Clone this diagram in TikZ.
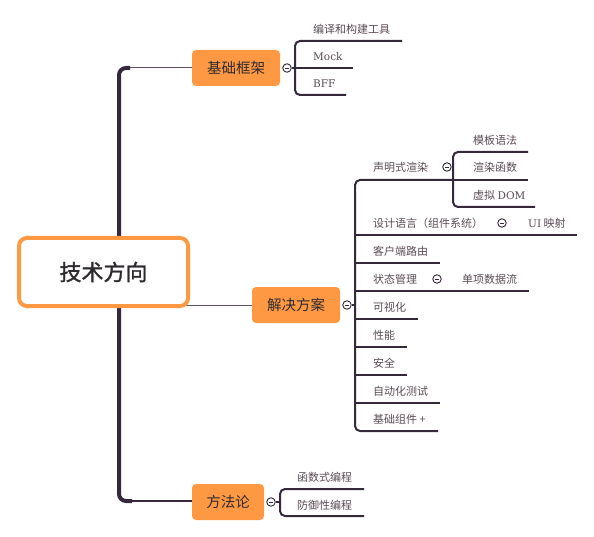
\documentclass[tikz,border=0pt]{standalone}
\usepackage{fontspec}
\setmainfont{DejaVu Serif}
\newfontfamily\cjk{Noto Sans CJK SC}
\newfontfamily\cjkmed[FakeBold=1.3]{Noto Sans CJK SC}
\definecolor{orangefill}{HTML}{FF9843}
\definecolor{linedark}{HTML}{35283A}
\definecolor{leafgray}{HTML}{5A4B55}
\definecolor{boxtext}{HTML}{2E2A2E}
\tikzset{
  rootbox/.style={draw=orangefill, line width=4pt, fill=white, rounded corners=8pt,
    minimum width=169pt, minimum height=68pt, inner sep=0pt, text=boxtext,
    font=\cjkmed\fontsize{22}{22}\selectfont},
  topicbox/.style={fill=orangefill, rounded corners=4pt, minimum height=36pt,
    inner sep=0pt, text=boxtext, font=\cjk\fontsize{14.5}{15}\selectfont},
  leaf/.style={anchor=west, inner sep=0pt, text=leafgray, font=\cjk\fontsize{11}{11}\selectfont},
  latin/.style={anchor=west, inner sep=0pt, text=leafgray, font=\fontsize{10.5}{10.5}\selectfont},
  branch/.style={draw=linedark, line width=2pt},
  bracketline/.style={draw=linedark, line width=2pt, rounded corners=5pt},
  knob/.style={circle, draw=linedark, fill=white, line width=0.9pt, minimum size=8.5pt, inner sep=0pt,
    path picture={\draw[linedark, line width=0.8pt] ([xshift=-2.2pt]path picture bounding box.center) -- ([xshift=2.2pt]path picture bounding box.center);}},
}
\begin{document}
\begin{tikzpicture}[x=1pt,y=-1pt]
\useasboundingbox (0,0) rectangle (594,537);

% ---- trunk ----
\coordinate (ttop) at (119,68);
\coordinate (tbot) at (119,501);
\draw[draw=linedark!80, line width=1pt] (125,68) -- (192,68);
\draw[draw=linedark, line width=1.6pt] (125,501) -- (192,501);
\draw[draw=linedark, line width=4pt, rounded corners=7pt] (130,68) -- (ttop) -- (tbot) -- (132,501);
\draw[draw=linedark!80, line width=1pt] (186,305) -- (252,305);

% ---- root ----
\node[rootbox] (root) at (103.5,272) {技术方向};

% ---- main topics ----
\node[topicbox, minimum width=88pt] (jc) at (236,68) {基础框架};
\node[topicbox, minimum width=88pt] (jj) at (296,305) {解决方案};
\node[topicbox, minimum width=72pt] (ff) at (228,502) {方法论};

% ---- 基础框架 branch ----
\coordinate (b1t) at (295,41);
\coordinate (b1b) at (295,95);
\draw[bracketline] (402,41) -- (b1t) -- (b1b) -- (346,95);
\node[knob] (k1) at (287,68) {};
\draw[branch] (k1.east) -- (353,68);
\node[leaf] (l11) at (313,29) {编译和构建工具};
\node[latin] (l12) at (313,56.5) {Mock};
\node[latin] (l13) at (313,83.5) {BFF};

% ---- 解决方案 branch ----
\coordinate (b2t) at (355,180);
\coordinate (b2b) at (355,431);
\draw[bracketline] (453,180) -- (b2t) -- (b2b) -- (438,431);
\node[knob] (k2) at (347,305) {};
\draw[branch] (k2.east) -- (355,305);
\foreach \y/\e in {235/577, 263/440, 291/529, 319/418, 347/407, 375/407, 403/440}
  \draw[branch] (354,\y) -- (\e,\y);

\node[leaf] (s1) at (373,167) {声明式渲染};
\node[leaf] (s2) at (373,223) {设计语言（组件系统）};
\node[leaf] (s3) at (373,251) {客户端路由};
\node[leaf] (s4) at (373,279) {状态管理};
\node[leaf] (s5) at (373,307) {可视化};
\node[leaf] (s6) at (373,335) {性能};
\node[leaf] (s7) at (373,363) {安全};
\node[leaf] (s8) at (373,391) {自动化测试};
\node[leaf] (s9) at (373,419) {基础组件 +};

% 声明式渲染 sub-branch
\node[knob] (k3) at (447,167) {};
\coordinate (b3t) at (453,152);
\coordinate (b3b) at (453,207);
\draw[bracketline] (528,152) -- (b3t) -- (b3b) -- (535,207);
\draw[branch] (452,180) -- (528,180);
\node[leaf] (r1) at (473,140) {模板语法};
\node[leaf] (r2) at (473,167) {渲染函数};
\node[leaf] (r3) at (473,195) {虚拟 {\fontsize{10.5}{10.5}\selectfont\rmfamily DOM}};

% 设计语言 sub
\node[knob] (k4) at (502,223) {};
\node[leaf] (u1) at (528,223) {{\fontsize{10.5}{10.5}\selectfont\rmfamily UI} 映射};

% 状态管理 sub
\node[knob] (k5) at (437,279) {};
\node[leaf] (d1) at (462,279) {单项数据流};

% ---- 方法论 branch ----
\coordinate (b4t) at (280,489);
\coordinate (b4b) at (280,516);
\draw[bracketline] (364,489) -- (b4t) -- (b4b) -- (364,516);
\node[knob] (k6) at (271,502) {};
\draw[branch] (k6.east) -- (280,502);
\node[leaf] (m1) at (297,477) {函数式编程};
\node[leaf] (m2) at (297,505) {防御性编程};
\end{tikzpicture}
\end{document}
